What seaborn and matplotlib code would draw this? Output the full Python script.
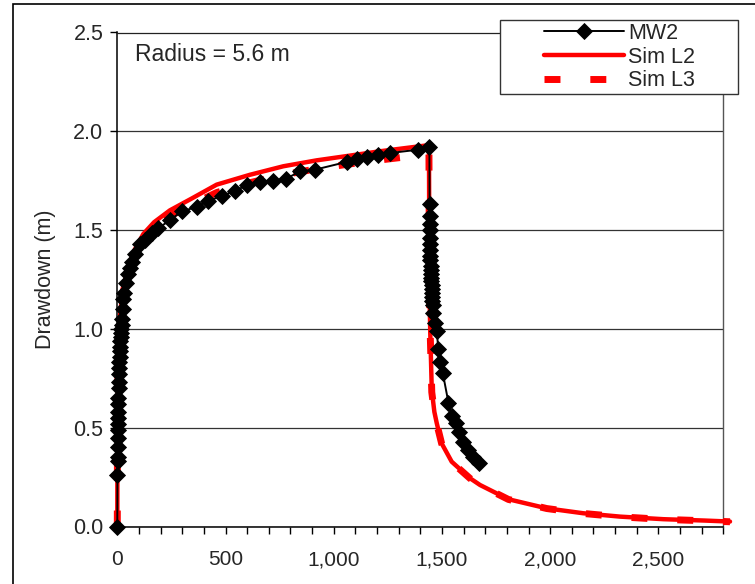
import matplotlib
matplotlib.use("Agg")
import matplotlib.pyplot as plt
from matplotlib.patches import Rectangle
from matplotlib.ticker import FuncFormatter, MultipleLocator
import seaborn as sns
import pandas as pd

# ---------------- data ----------------
mw2_t = [0, 0.5, 1, 1.5, 2, 2.5, 3, 3.5, 4, 4.5, 5, 5.5, 6, 7, 8, 9, 10, 11, 12, 13,
         14, 15, 16, 18, 20, 22, 25, 28, 32, 40, 50, 60, 66, 82, 105, 128, 159, 190,
         243, 298, 367, 420, 482, 544, 601, 659, 721, 780, 844, 914, 1060, 1106, 1152,
         1206, 1260, 1391, 1442,
         1443, 1443.5, 1444, 1444.5, 1445, 1445.5, 1446, 1446.5, 1447, 1447.5, 1448,
         1449, 1450, 1451, 1452, 1453, 1454, 1455, 1456, 1457, 1460, 1468, 1476, 1483,
         1491, 1504, 1530, 1545, 1565, 1579, 1599, 1622, 1645, 1673]
mw2_s = [0.00, 0.26, 0.33, 0.35, 0.40, 0.45, 0.49, 0.52, 0.55, 0.58, 0.62, 0.65, 0.70,
         0.73, 0.77, 0.80, 0.83, 0.86, 0.89, 0.91, 0.94, 0.96, 0.98, 1.00, 1.02, 1.05,
         1.10, 1.15, 1.18, 1.23, 1.28, 1.31, 1.34, 1.38, 1.43, 1.45, 1.485, 1.51, 1.55,
         1.595, 1.617, 1.649, 1.671, 1.70, 1.727, 1.742, 1.75, 1.76, 1.797, 1.806,
         1.845, 1.86, 1.868, 1.878, 1.89, 1.907, 1.919,
         1.63, 1.57, 1.53, 1.50, 1.46, 1.43, 1.40, 1.37, 1.35, 1.32, 1.30, 1.28, 1.26,
         1.24, 1.22, 1.20, 1.18, 1.16, 1.14, 1.12, 1.08, 1.03, 0.99, 0.90, 0.835,
         0.776, 0.627, 0.56, 0.523, 0.48, 0.43, 0.388, 0.354, 0.32]

sim_t = [0, 0.5, 1, 2, 5, 10, 20, 30, 50, 80, 120, 170, 243, 344, 459, 613, 767, 921,
         1075, 1214, 1330, 1440, 1441, 1442, 1444, 1446, 1448, 1453, 1465, 1476, 1499,
         1545, 1630, 1676, 1807, 1984, 2153, 2323, 2523, 2716, 2831]
sim_l2 = [0.00, 0.40, 0.55, 0.70, 0.90, 1.03, 1.15, 1.22, 1.31, 1.40, 1.48, 1.54, 1.60,
          1.66, 1.73, 1.78, 1.823, 1.853, 1.877, 1.899, 1.915, 1.93, 1.60, 1.30, 1.10,
          0.98, 0.90, 0.69, 0.58, 0.523, 0.42, 0.328, 0.244, 0.21, 0.138, 0.092, 0.067,
          0.050, 0.037, 0.030, 0.025]
sim_l3 = [0.00, 0.38, 0.52, 0.68, 0.88, 1.01, 1.13, 1.20, 1.29, 1.37, 1.45, 1.51, 1.57,
          1.63, 1.69, 1.74, 1.78, 1.81, 1.835, 1.855, 1.87, 1.885, 1.58, 1.29, 1.09,
          0.97, 0.89, 0.68, 0.575, 0.52, 0.418, 0.326, 0.243, 0.209, 0.137, 0.091,
          0.066, 0.049, 0.036, 0.029, 0.024]

xticks = [0, 500, 1000, 1500, 2000, 2500]
yticks = [0.0, 0.5, 1.0, 1.5, 2.0, 2.5]

# ---------------- plot ----------------
sns.set_style("white")
plt.rcParams['font.family'] = ['Liberation Sans', 'DejaVu Sans']

W, H = 755, 584
fig = plt.figure(figsize=(W / 100, H / 100), dpi=100)
ax = fig.add_axes([117.3 / W, 57.5 / H, 606 / W, 494 / H])

df_mw = pd.DataFrame({"t": mw2_t, "s": mw2_s})
df_sim = pd.DataFrame({"t": sim_t, "l2": sim_l2, "l3": sim_l3})

sns.lineplot(data=df_sim, x="t", y="l2", ax=ax, sort=False, estimator=None,
             color="#ff0000", lw=3.2, label="Sim L2", zorder=3, clip_on=False)
sns.lineplot(data=df_sim, x="t", y="l3", ax=ax, sort=False, estimator=None,
             color="#ff0000", lw=5, dashes=False, label="Sim L3", zorder=3,
             clip_on=False)
l3line = ax.lines[-1]
l3line.set_linestyle((0, (2.3, 4.3)))
l3line.set_dash_capstyle("butt")
sns.lineplot(data=df_mw, x="t", y="s", ax=ax, sort=False, estimator=None,
             color="black", lw=1.4, marker="D", markersize=8.3,
             markeredgecolor="black", markeredgewidth=0.6, label="MW2", zorder=4,
             clip_on=False)

ax.set_xlim(0, 2800)
ax.set_ylim(0, 2.5)
ax.set_xticks(xticks)
ax.set_yticks(yticks)
ax.xaxis.set_minor_locator(MultipleLocator(100))
ax.xaxis.set_major_formatter(FuncFormatter(lambda v, p: f"{int(v):,}"))
ax.yaxis.set_major_formatter(FuncFormatter(lambda v, p: f"{v:.1f}"))

ax.tick_params(axis="x", which="both", direction="out", length=5, width=1,
               color="black", bottom=True, labelsize=15, pad=12)
ax.tick_params(axis="y", which="major", direction="out", length=5, width=1,
               color="black", left=True, labelsize=15.5, pad=5)
ax.set_xlabel("")
ax.set_ylabel("Drawdown (m)", fontsize=15.5, labelpad=12)

ax.grid(axis="y", color="#333333", lw=0.9)
ax.grid(axis="x", visible=False)
ax.set_axisbelow(True)
for side in ["left", "bottom"]:
    ax.spines[side].set_color("black")
    ax.spines[side].set_linewidth(1.1)
ax.spines["top"].set_color("#222222")
ax.spines["top"].set_linewidth(0.9)
ax.spines["right"].set_color("#555555")
ax.spines["right"].set_linewidth(1.0)

ax.text((135 - 117.3) / 108.2 * 500, 2.39, "Radius = 5.6 m", fontsize=16.5,
        ha="left", va="center")

# legend box drawn separately (wide horizontal padding)
ax.add_patch(Rectangle((500 / W, 1 - 94 / H), 238 / W, 74 / H,
                       transform=fig.transFigure, facecolor="white",
                       edgecolor="#333333", lw=1.0, zorder=9, clip_on=False))

handles, labels = ax.get_legend_handles_labels()
order = [labels.index("MW2"), labels.index("Sim L2"), labels.index("Sim L3")]
leg = ax.legend([handles[i] for i in order], [labels[i] for i in order],
                loc="upper left", bbox_to_anchor=(544 / W, 1 - 23 / H),
                bbox_transform=fig.transFigure, fontsize=15.5, frameon=False,
                handlelength=3.7, handletextpad=0.2, borderpad=0,
                labelspacing=0.12, borderaxespad=0)
leg.set_zorder(10)

# outer chart frame (partially cropped)
fig.patches.append(Rectangle((13 / W, -0.5), 2.0, 0.5 + 1 - 3.5 / H,
                             transform=fig.transFigure, fill=False,
                             edgecolor="black", lw=1.2, clip_on=False))

fig.savefig("out.png", dpi=100)
